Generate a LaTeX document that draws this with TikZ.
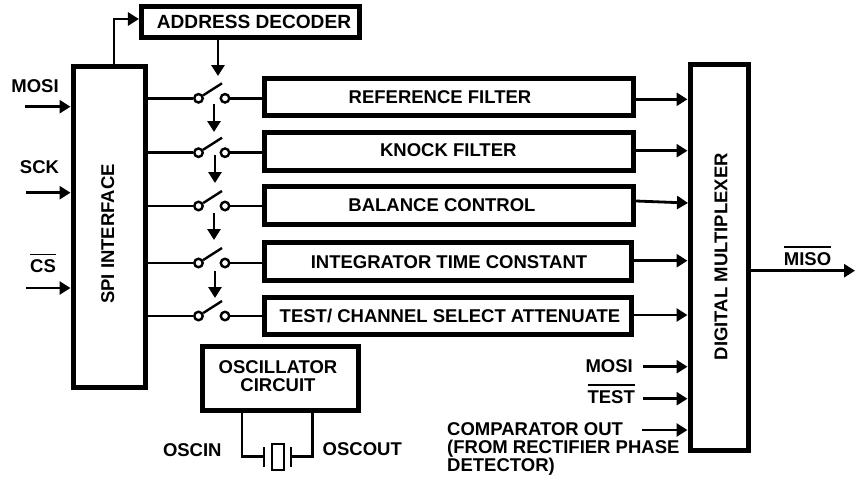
\documentclass[tikz,border=0pt]{standalone}
\usepackage{fontspec}
\setmainfont{Liberation Sans}
\usetikzlibrary{arrows.meta}
\tikzset{
  x=1pt,y=-1pt,
  every node/.append style={font=\fontsize{18.5}{18}\selectfont\bfseries},
  block/.style={draw=black,line width=5pt,fill=white,inner sep=0pt,align=center},
  lbl/.style={inner sep=0pt,text height=13.2pt,text depth=0pt},
  contact/.style={draw=black,circle,line width=2.4pt,fill=white,minimum size=8.5pt,inner sep=0pt,font=\tiny},
  wire/.style={line width=2.8pt},
  sig/.style={line width=2.8pt,-{Triangle[length=11pt,width=13pt]}},
  thin wire/.style={line width=2.4pt}
}
\newcommand{\barred}[1]{\setbox0=\hbox{#1}\vbox{\hrule height 1.4pt\kern 4.5pt\box0}}
\begin{document}
\begin{tikzpicture}
\useasboundingbox (0,0) rectangle (855,480);
% blocks
\node[block,minimum width=217.7pt,minimum height=30.5pt] (addr) at (250.3,21.8) {};
\node[block,minimum width=72pt,minimum height=321pt] (spi) at (109,227) {};
\node[block,minimum width=58pt,minimum height=386pt] (mux) at (719,257.5) {};
\node[block,minimum width=156pt,minimum height=63.5pt] (osc) at (280.3,378.4) {};
\node[block,minimum width=369pt,minimum height=37pt] (b1) at (449,97) {};
\node[block,minimum width=369pt,minimum height=37.7pt] (b2) at (449,151.4) {};
\node[block,minimum width=369pt,minimum height=38pt] (b3) at (449,205.5) {};
\node[block,minimum width=367pt,minimum height=37.7pt] (b4) at (448,261.4) {};
\node[block,minimum width=367pt,minimum height=36.7pt] (b5) at (448,315.9) {};
% block texts
\node[lbl,font=\fontsize{19.1}{18}\selectfont\bfseries] (taddr) at (254,21.7) {ADDRESS DECODER};
\node[lbl,rotate=90] (tspi) at (107.5,234) {SPI INTERFACE};
\node[lbl,rotate=90] (tmux) at (720.7,256.7) {DIGITAL MULTIPLEXER};
\node[inner sep=0pt,align=center] (tosc) at (278,376) {OSCILLATOR\\CIRCUIT};
\node[lbl] (t1) at (440,97.3) {REFERENCE FILTER};
\node[lbl] (t2) at (448.3,149.5) {KNOCK FILTER};
\node[lbl] (t3) at (442,205) {BALANCE CONTROL};
\node[lbl] (t4) at (449,261.7) {INTEGRATOR TIME CONSTANT};
\node[lbl] (t5) at (450,316) {TEST/ CHANNEL SELECT ATTENUATE};
% switches
\foreach \n/\yy in {1/98.3,2/152.7,3/206,4/263,5/316}{
  \coordinate (bt\n) at (222,\yy-15);
  \node[contact] (sl\n) at (198.5,\yy) {};
  \node[contact] (sr\n) at (225,\yy) {};
  \draw[thin wire] (sl\n) -- (bt\n);
  \draw[wire] (spi.east |- sl\n) -- (sl\n.west);
  \draw[wire] (sr\n.east) -- (b\n.west |- sr\n);
}
% control arrows
\coordinate (c0) at (218,39.5);
\coordinate (d0) at (218,76);
\draw[sig] (c0) -- (d0);
\coordinate (c1) at (214,104); \coordinate (d1) at (214,132);
\coordinate (c2) at (215,155); \coordinate (d2) at (215,183);
\coordinate (c3) at (214,213); \coordinate (d3) at (214,240);
\coordinate (c4) at (215,271); \coordinate (d4) at (215,298);
\draw[sig] (c1) -- (d1);
\draw[sig] (c2) -- (d2);
\draw[sig] (c3) -- (d3);
\draw[sig] (c4) -- (d4);
% SPI to decoder
\coordinate (spit) at (114,64);
\coordinate (spib) at (114,19);
\draw[sig] (spit) -- (spib) -- (addr.west |- spib);
% SPI inputs
\coordinate (i1) at (25,106.7);
\coordinate (i2) at (26,192.7);
\coordinate (i3) at (26,288);
\draw[sig] (i1) -- (spi.west |- i1);
\draw[sig] (i2) -- (spi.west |- i2);
\draw[sig] (i3) -- (spi.west |- i3);
\node[lbl] (lmosi) at (35,85.7) {MOSI};
\node[lbl] (lsck) at (39.5,167) {SCK};
\node[inner sep=0pt,anchor=base] (lcs) at (43,272.7) {\barred{CS}};
% filter outputs
\coordinate (o1) at (636,99.3);
\coordinate (o2) at (636,150.7);
\coordinate (o3) at (636,201);
\coordinate (o3e) at (688,203);
\coordinate (o4) at (634,260.7);
\coordinate (o5) at (634,315);
\draw[sig] (o1) -- (mux.west |- o1);
\draw[sig] (o2) -- (mux.west |- o2);
\draw[sig] (o3) -- (o3e);
\draw[sig] (o4) -- (mux.west |- o4);
\draw[sig] (o5) -- (mux.west |- o5);
% lower mux inputs
\coordinate (m1) at (643,366.7);
\coordinate (m2) at (643,398.7);
\coordinate (m3) at (642,430);
\draw[sig] (m1) -- (mux.west |- m1);
\draw[sig] (m2) -- (mux.west |- m2);
\draw[sig] (m3) -- (mux.west |- m3);
\node[inner sep=0pt,anchor=base east] (lm1) at (633,372.7) {MOSI};
\node[inner sep=0pt,anchor=base east] (lm2) at (635,403) {\barred{TEST}};
\node[inner sep=0pt,anchor=north west,align=left] (lm3) at (447,422) {COMPARATOR OUT\\(FROM RECTIFIER PHASE\\DETECTOR)};
% output
\coordinate (miso) at (855,270.7);
\draw[sig] (mux.east |- miso) -- (miso);
\node[inner sep=0pt,anchor=base] (lmiso) at (807.5,265) {\barred{MISO}};
% crystal
\coordinate (xl) at (242,412);
\coordinate (xr) at (312.7,412);
\coordinate (pl) at (264,456.7);
\coordinate (pr) at (291,456.7);
\draw[wire] (xl) |- (pl);
\draw[wire] (xr) |- (pr);
\draw[wire] (264,447) -- (264,467);
\draw[wire] (291,447) -- (291,467);
\draw[wire] (272,444) rectangle (284,470);
\node[lbl] (losci) at (192.3,450) {OSCIN};
\node[lbl] (losco) at (362.3,449) {OSCOUT};
\end{tikzpicture}
\end{document}
